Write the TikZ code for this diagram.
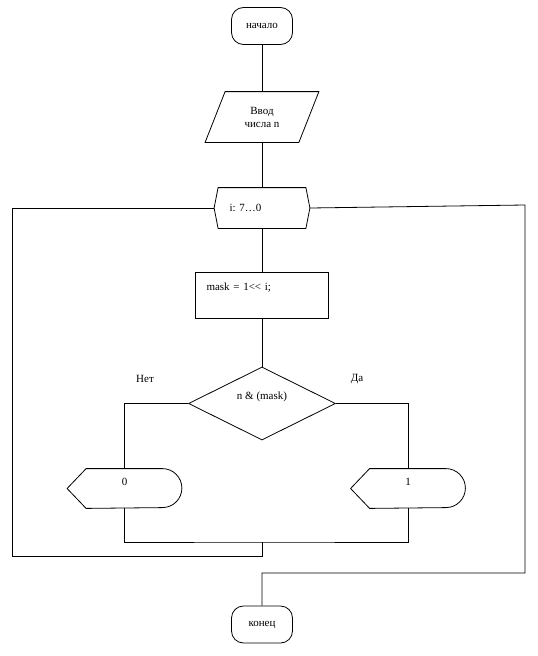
\documentclass[tikz,border=0pt]{standalone}
\usepackage{fontspec}
\setmainfont{Liberation Serif}
\usetikzlibrary{shapes.geometric}
\frenchspacing

\begin{document}
\begin{tikzpicture}[x=1pt,y=-1pt,line width=0.8pt,font=\fontsize{11}{13}\selectfont]
    \tikzstyle{term}=[draw,rounded corners=12pt,minimum width=61pt,minimum height=37pt,inner sep=0pt]
    \tikzstyle{io}=[minimum width=113pt,minimum height=50pt,inner sep=0pt,align=center,
        append after command={\pgfextra{\let\ionode\tikzlastnode
        \draw ([xshift=20pt]\ionode.north west) -- (\ionode.north east)
            -- ([xshift=-20pt]\ionode.south east) -- (\ionode.south west) -- cycle;}}]
    \tikzstyle{loopbox}=[minimum width=95pt,minimum height=40pt,inner xsep=15pt,inner ysep=0pt,
        text width=65pt,align=left,
        append after command={\pgfextra{\let\lpnode\tikzlastnode
        \draw (\lpnode.west) -- ([xshift=4pt]\lpnode.north west) -- ([xshift=-4pt]\lpnode.north east)
            -- (\lpnode.east) -- ([xshift=-4pt]\lpnode.south east) -- ([xshift=4pt]\lpnode.south west) -- cycle;}}]
    \tikzstyle{proc}=[draw,minimum width=133pt,minimum height=46pt,inner xsep=11pt,inner ysep=0pt,
        text width=111pt,align=left,text height=8pt,text depth=17pt]
    \tikzstyle{decision}=[draw,diamond,aspect=2,minimum width=147pt,minimum height=73pt,inner sep=0pt,
        text height=8pt,text depth=16pt]
    \tikzstyle{disp}=[minimum width=114pt,minimum height=39pt,inner sep=0pt,text height=8pt,text depth=13.5pt,
        append after command={\pgfextra{\let\dpnode\tikzlastnode
        \draw (\dpnode.west) -- ([xshift=19pt]\dpnode.north west) -- ([xshift=-19.5pt]\dpnode.north east)
            arc[start angle=90,end angle=-90,radius=19.5pt] -- ([xshift=19pt]\dpnode.south west) -- cycle;}}]

    \useasboundingbox (0,0) rectangle (538,656);

    \node[term]     (start) at (262,26)                           {начало};
    \node[io]       (input) [below of=start,node distance=91pt]   {Ввод\\числа n};
    \node[loopbox]  (loop)  [below of=input,node distance=91pt]   {i: 7…0};
    \node[proc]     (mask)  [below of=loop,node distance=87pt]    {mask = 1<\kern0pt< i;};
    \node[decision] (cond)  [below of=mask,node distance=108.5pt] {n \& (mask)};
    \node[disp]     (out0)  [below of=cond,node distance=85pt,xshift=-137.5pt] {0};
    \node[disp]     (out1)  [below of=cond,node distance=85pt,xshift=146pt]    {1};
    \node[term]     (end)   at (262,624.5)                        {конец};

    \node (no)  at (145,379) {Нет};
    \node (yes) at (357,379) {Да};

    \coordinate (merge)   at (262,542);
    \coordinate (back)    at (12,556);
    \coordinate (exit)    at (525,205);
    \coordinate (exitlow) at (262,573);

    \path
    (start) edge (input)
    (input) edge (loop)
    (loop)  edge (mask)
    (mask)  edge (cond);
    \draw (cond.west) -| (out0.north);
    \draw (cond.east) -| (out1.north);
    \draw (out0.south) |- (merge) -| (out1.south);
    \draw (merge) |- (back) |- (loop.west);
    \draw (loop.east) -- (exit) |- (exitlow) -- (end.north);
\end{tikzpicture}
\end{document}
